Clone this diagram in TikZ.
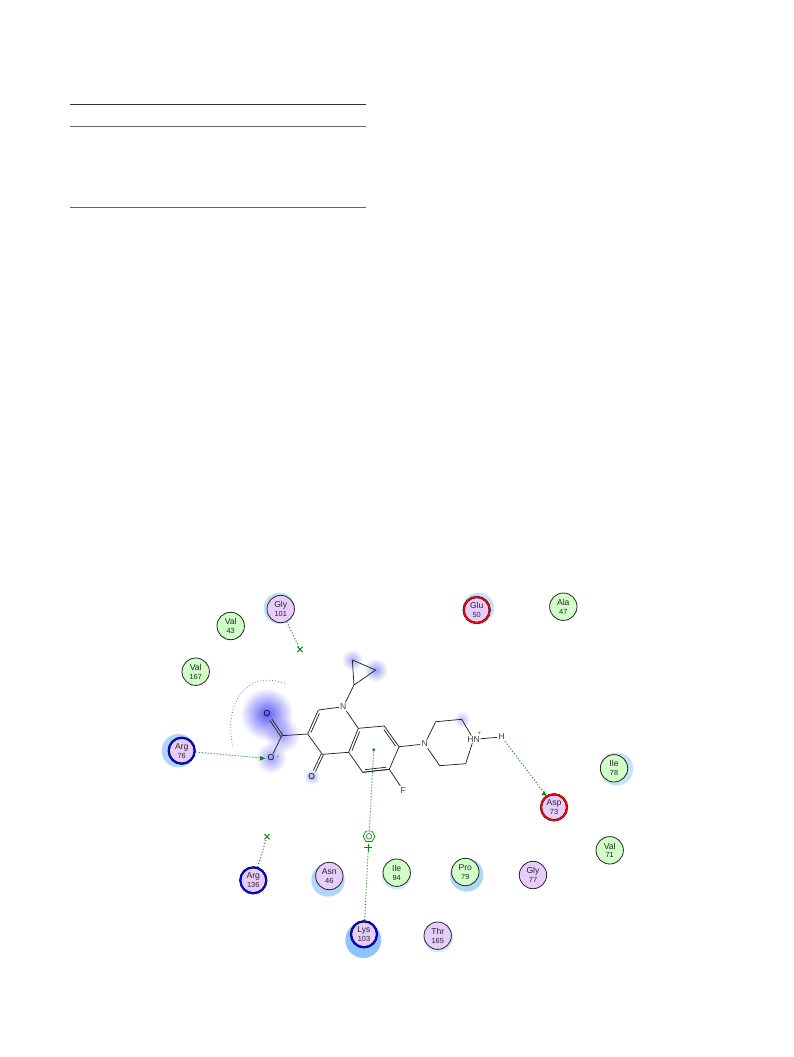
\documentclass[tikz,border=0pt]{standalone}
\usepackage{fontspec}
\setmainfont{Liberation Sans}
\usetikzlibrary{calc,arrows.meta,fadings,shapes.geometric,shapes.misc}
\definecolor{hl}{HTML}{C6E1FB}
\definecolor{hm}{HTML}{B0D6FC}
\definecolor{hd}{HTML}{8FC4FB}
\definecolor{gp}{HTML}{0E8A0E}
\definecolor{rg}{HTML}{D2FFC8}
\definecolor{rp}{HTML}{E8CDFA}
\definecolor{glow}{HTML}{3C3CF5}
\tikzfading[name=glowfade,inner color=transparent!0,outer color=transparent!100]
\newcommand{\res}[6][]{\node[resbox,fill=#2,#1] (#3) at #4 {#5\\[-0.2pt]{\fontsize{7.4}{8}\selectfont #6}};}
\newcommand{\halo}[3]{\fill[#1] #2 circle (#3);}
\newcommand{\glowat}[3]{\fill[glow,path fading=glowfade,opacity=#3] #1 circle (#2*1.2);}
\newcommand{\dbl}[3]{\draw[bond] (#1)--(#2);
  \draw[bond] ($(#1)!0.1!(#2)!2.4pt!#3:(#2)$)--($(#2)!0.1!(#1)!2.4pt!-#3:(#1)$);}
\newcommand{\dbo}[2]{%
  \draw[bond] ($(#1)!1.2pt!90:(#2)$)--($(#1)!0.74!(#2)!1.2pt!90:(#2)$);
  \draw[bond] ($(#1)!1.2pt!-90:(#2)$)--($(#1)!0.74!(#2)!1.2pt!-90:(#2)$);}
\tikzset{
  resbox/.style={circle,draw=black!85,line width=0.8pt,minimum size=27.4pt,inner sep=0pt,align=center,font=\fontsize{8.6}{9}\selectfont,text=black!85},
  posres/.style={draw=black,line width=2.2pt,minimum size=26pt,postaction={draw=blue,line width=1.4pt}},
  negres/.style={draw=black,line width=2.2pt,minimum size=26pt,postaction={draw=red,line width=1.5pt}},
  bond/.style={line width=0.75pt,draw=black!85},
  atom/.style={inner sep=1.2pt,font=\fontsize{8.6}{9}\selectfont,text=black!75},
  oatom/.style={atom,text=black!85!blue},
  hbond/.style={draw=gp,line width=1pt,dash pattern=on 1pt off 2pt},
  rule/.style={line width=0.8pt},
}
\begin{document}
\begin{tikzpicture}[x=1pt,y=-1pt]
\useasboundingbox (0,0) rectangle (793,1057);
% table rules
\coordinate (ta) at (70,104.5); \coordinate (tb) at (366,104.5);
\coordinate (tc) at (70,126.5); \coordinate (td) at (366,126.5);
\coordinate (te) at (70,207);   \coordinate (tf) at (366,207);
\draw[rule,black!80] (ta)--(tb);
\draw[rule,black!60] (tc)--(td);
\draw[line width=1pt,black!60] (te)--(tf);
% glows
\glowat{(266.7,714)}{22}{0.85}
\glowat{(282,735)}{15}{0.5}
\glowat{(271,758)}{13}{0.5}
\glowat{(311.7,776.7)}{7}{0.4}
\glowat{(352.3,660)}{9}{0.45}
\glowat{(375.7,670)}{10}{0.5}
\glowat{(461.7,719.3)}{7}{0.35}
% halos
\halo{hl}{(279.3,608.3)}{15.7}
\halo{hm}{(178.3,750.7)}{16.7}
\halo{hl}{(478.3,608.3)}{15.7}
\halo{hl}{(616.7,769)}{16.5}
\halo{hm}{(466.7,875)}{16.7}
\halo{hm}{(328,880)}{16.7}
\halo{hl!70!white}{(396.7,875)}{14.7}
\halo{hd}{(363.3,940)}{18}
\halo{hl!70!white}{(438.3,937.7)}{14.7}
% atoms
\coordinate (c2) at (318.3,710);
\coordinate (c3) at (307.7,734);
\coordinate (c4) at (322.3,754.3);
\coordinate (c4a) at (348.7,752.3);
\coordinate (c8a) at (358.3,728.3);
\coordinate (c8) at (384.3,726);
\coordinate (c7) at (399,746.7);
\coordinate (c6) at (389.3,769.3);
\coordinate (c5) at (362.7,772.3);
\coordinate (cc) at (281.7,735.7);
\coordinate (cp1) at (354,685);
\coordinate (cp2) at (352.3,660);
\coordinate (cp3) at (375.7,670);
\coordinate (pa) at (435.7,721.7);
\coordinate (pb) at (461.7,719.3);
\coordinate (pc) at (465.7,763.7);
\coordinate (pd) at (439.7,765.7);
\node[atom] (n1) at (343.3,706.7) {N};
\node[atom] (n2) at (424.7,744) {N};
\node[atom,inner sep=0.6pt] (n3) at (473.5,739.3) {HN};
\node[atom,inner sep=0pt,font=\fontsize{6.5}{6.5}\selectfont] (plus) at (479.3,733.3) {+};
\node[atom] (h) at (501.7,737) {H};
\node[atom] (f) at (403.3,790.3) {F};
\node[oatom] (o1) at (267,714) {O};
\node[oatom] (o2) at (271,758) {O};
\node[atom,inner sep=0pt,font=\fontsize{7}{7}\selectfont] (minus) at (278,757.2) {-};
\node[oatom] (o3) at (311.7,776.7) {O};
% bonds
\draw[bond] (n1)--(c2);
\dbl{c3}{c2}{-90}
\draw[bond] (c3)--(c4) (c4)--(c4a) (c4a)--(c5) (c8a)--(n1) (c8a)--(c8) (c7)--(c6) (c5)--(c6);
\dbl{c4a}{c8a}{-90}
\dbl{c8}{c7}{-90}
\dbl{c6}{c5}{-90}
\draw[bond] (c3)--(cc) (cc)--(o2) (c6)--(f) (c7)--(n2) (n2)--(pa) (pa)--(pb) (pb)--(n3) (n3)--(pc) (pc)--(pd) (pd)--(n2) (n3)--(h);
\dbo{cc}{o1}
\dbo{c4}{o3}
\draw[bond] (n1)--(cp1) (cp1)--(cp2) (cp2)--(cp3) (cp3)--(cp1);
% gray arc
\coordinate (aa) at (232.7,745.7);
\coordinate (ab) at (286.7,684);
\draw[black!45,line width=0.8pt,dash pattern=on 0.9pt off 2.1pt] (aa) .. controls (224,705) and (245,668) .. (ab);
% residues
\res{rp}{gly101}{(280.7,609)}{Gly}{101}
\res{rg}{val43}{(230.7,626)}{Val}{43}
\res{rg}{val167}{(195.7,671.7)}{Val}{167}
\res[posres]{rp}{arg76}{(181.7,750.7)}{Arg}{76}
\res[negres]{rp}{glu50}{(476.7,610)}{Glu}{50}
\res{rg}{ala47}{(563.3,606.7)}{Ala}{47}
\res{rg}{ile78}{(614,768.3)}{Ile}{78}
\res[negres]{rp}{asp73}{(554,807.3)}{Asp}{73}
\res{rg}{val71}{(609.7,850.3)}{Val}{71}
\res{rp}{gly77}{(533,875)}{Gly}{77}
\res{rg}{pro79}{(465.3,872)}{Pro}{79}
\res[posres]{rp}{arg136}{(253.3,880.3)}{Arg}{136}
\res{rp}{asn46}{(329.3,876)}{Asn}{46}
\res{rg}{ile94}{(396.7,872.7)}{Ile}{94}
\res[posres]{rp}{lys103}{(364,934.3)}{Lys}{103}
\res{rp}{thr165}{(437.7,935.7)}{Thr}{165}
% interaction markers
\node[cross out,draw=gp,line width=1pt,minimum size=4.2pt,inner sep=0pt] (xa) at (300,649.3) {};
\node[cross out,draw=gp,line width=1pt,minimum size=4.2pt,inner sep=0pt] (xb) at (267,836.7) {};
\node[regular polygon,regular polygon sides=6,draw=gp,line width=0.7pt,minimum size=12pt,inner sep=0pt] (benz) at (369,836.3) {};
\node[circle,draw=gp,line width=0.6pt,minimum size=5.5pt,inner sep=0pt] (benzin) at (369,836.3) {};
\coordinate (pl) at (368.3,847.7);
\draw[gp,line width=0.8pt] ($(pl)+(-4,0)$)--($(pl)+(4,0)$) ($(pl)+(0,-4)$)--($(pl)+(0,4)$);
\node[circle,fill=gp,minimum size=3.2pt,inner sep=0pt] (cent) at (373.7,749.7) {};
\coordinate (o2t) at (265,758.3);
\coordinate (asp) at (545,794);
% interactions
\draw[hbond] (gly101)--(xa);
\draw[hbond] (arg136)--(xb);
\draw[hbond] (lys103)--(pl);
\draw[hbond] (cent)--(benz);
\draw[hbond] (arg76)--(o2t);
\fill[gp] (o2t) -- ++(-5,-2.4) -- ++(0,4.8) -- cycle;
\draw[hbond] (h)--(asp);
\fill[gp] (asp) ++(2,2) -- ++(-5.4,-1.2) -- ++(2.6,-3.8) -- cycle;
\end{tikzpicture}
\end{document}
